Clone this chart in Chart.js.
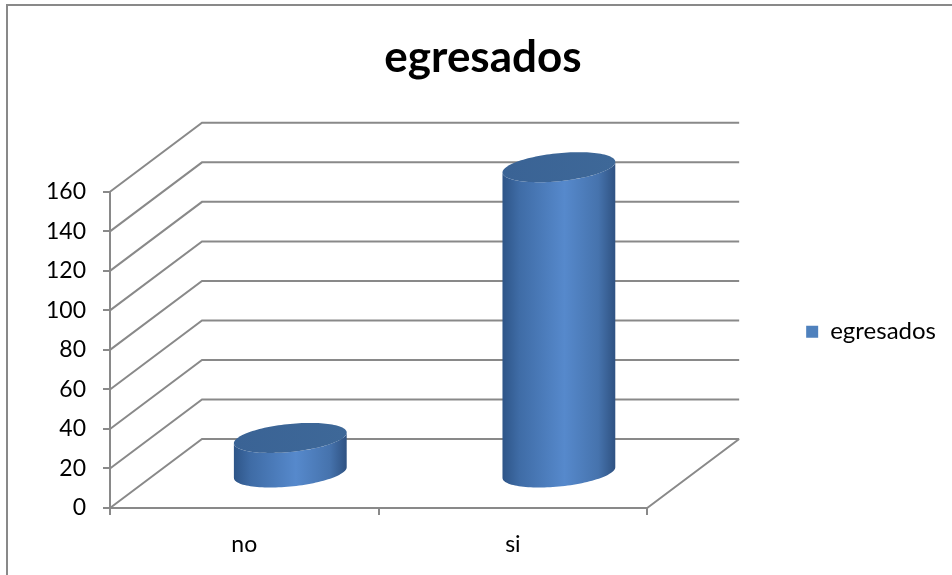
<!DOCTYPE html>
<html>
<head>
<meta charset="utf-8">
<script src="https://cdn.jsdelivr.net/npm/chart.js@4.4.1/dist/chart.umd.min.js"></script>
<style>
  html, body { margin: 0; padding: 0; background: #fff; }
  #wrap { width: 952px; height: 575px; }
</style>
</head>
<body>
<div id="wrap"><canvas id="chart" width="952" height="575"></canvas></div>
<script>
const categories = ['no', 'si'];
const egresados = [18, 155];
const yMax = 160;
const yStep = 20;

const GRID = '#898989';
const FONT = 'Lato, "Open Sans", sans-serif';
// oblique offset of the back wall, and ellipse shape of the cylinders
const DX = 92, DY = 69;
const P = 0.38, Q = 0.285;

function drawCylinder(ctx, cx, baseY, topY, half) {
  const R = half / Math.sqrt(1 + P * P);
  const pt = (cy, th) => [cx + R * Math.cos(th) + R * P * Math.sin(th), cy - R * Q * Math.sin(th)];
  const a0 = Math.atan(P);
  const steps = 60;

  // body: left side, front half of the bottom, right side, front half of the top
  ctx.beginPath();
  let p = pt(topY, Math.PI + a0);
  ctx.moveTo(p[0], p[1]);
  for (let k = 0; k <= steps; k++) {
    p = pt(baseY, Math.PI + a0 + Math.PI * k / steps);
    ctx.lineTo(p[0], p[1]);
  }
  for (let k = steps; k >= 0; k--) {
    p = pt(topY, Math.PI + a0 + Math.PI * k / steps);
    ctx.lineTo(p[0], p[1]);
  }
  ctx.closePath();
  const g = ctx.createLinearGradient(cx - half, 0, cx + half, 0);
  g.addColorStop(0, '#2E5588');
  g.addColorStop(0.15, '#3F6CA6');
  g.addColorStop(0.55, '#5689CC');
  g.addColorStop(0.85, '#4673AD');
  g.addColorStop(1, '#2F5282');
  ctx.fillStyle = g;
  ctx.fill();

  // top cap
  ctx.beginPath();
  for (let k = 0; k <= steps * 2; k++) {
    p = pt(topY, Math.PI * k / steps);
    if (k === 0) ctx.moveTo(p[0], p[1]); else ctx.lineTo(p[0], p[1]);
  }
  ctx.closePath();
  const t = ctx.createLinearGradient(cx - half, 0, cx + half, 0);
  t.addColorStop(0, '#3A6395');
  t.addColorStop(1, '#3E6898');
  ctx.fillStyle = t;
  ctx.fill();
}

const depth3d = {
  id: 'depth3d',
  beforeDraw(chart) {
    const ctx = chart.ctx;
    ctx.save();
    ctx.strokeStyle = GRID;
    ctx.lineWidth = 2;
    ctx.beginPath();
    ctx.moveTo(7, chart.height + 5);
    ctx.lineTo(7, 5);
    ctx.lineTo(chart.width + 5, 5);
    ctx.stroke();
    ctx.restore();
  },
  beforeDatasetsDraw(chart) {
    const { ctx, chartArea: a, scales: { y } } = chart;
    const y0 = y.getPixelForValue(0);
    ctx.save();
    ctx.strokeStyle = GRID;
    ctx.lineWidth = 2;
    ctx.beginPath();
    y.ticks.forEach(t => {
      const py = y.getPixelForValue(t.value);
      ctx.moveTo(a.left, py);
      ctx.lineTo(a.left + DX, py - DY);
      ctx.lineTo(a.right + DX, py - DY);
    });
    ctx.moveTo(a.right, y0);
    ctx.lineTo(a.right + DX, y0 - DY);
    ctx.stroke();

    const meta = chart.getDatasetMeta(0);
    meta.data.forEach(bar => {
      drawCylinder(ctx, bar.x + DX / 2, bar.base - DY / 2, bar.y - DY / 2, bar.width / 2);
    });
    ctx.restore();
    return false;
  }
};

new Chart(document.getElementById('chart'), {
  type: 'bar',
  data: {
    labels: categories,
    datasets: [{
      label: 'egresados',
      data: egresados,
      backgroundColor: '#4F81BD',
      categoryPercentage: 1,
      barPercentage: 0.42
    }]
  },
  options: {
    responsive: false,
    animation: false,
    layout: { padding: { top: 0, left: 20, right: 6, bottom: 0 } },
    plugins: {
      title: {
        display: true,
        text: 'egresados',
        color: '#000',
        font: { family: FONT, size: 44, weight: 'bold' },
        padding: { top: 31, bottom: 108 }
      },
      legend: {
        position: 'right',
        // empty title pushes the entry down level with the middle of the plot
        title: { display: true, text: ' ', font: { family: FONT, size: 22 }, padding: { top: 31, bottom: 31 } },
        labels: {
          color: '#000',
          font: { family: FONT, size: 24 },
          boxWidth: 12,
          boxHeight: 12,
          padding: 10
        }
      },
      tooltip: { enabled: false }
    },
    scales: {
      x: {
        offset: true,
        grid: { offset: true, drawOnChartArea: false, color: GRID, lineWidth: 2, tickLength: 7 },
        border: { color: GRID, width: 2 },
        ticks: { color: '#000', font: { family: FONT, size: 23 }, padding: 16 },
        afterFit: s => { s.height = 67; }
      },
      y: {
        min: 0,
        max: yMax,
        grid: { drawOnChartArea: false, color: GRID, lineWidth: 2, tickLength: 7 },
        border: { color: GRID, width: 2 },
        ticks: { stepSize: yStep, color: '#000', font: { family: FONT, size: 23 }, padding: 17 },
        afterFit: s => { s.width = 90; }
      },
      // keeps room for the back wall between the plot and the legend
      depth: {
        position: 'right',
        display: true,
        grid: { display: false },
        border: { display: false },
        ticks: { display: false },
        afterFit: s => { s.width = 149; }
      }
    }
  },
  plugins: [depth3d]
});
</script>
</body>
</html>
